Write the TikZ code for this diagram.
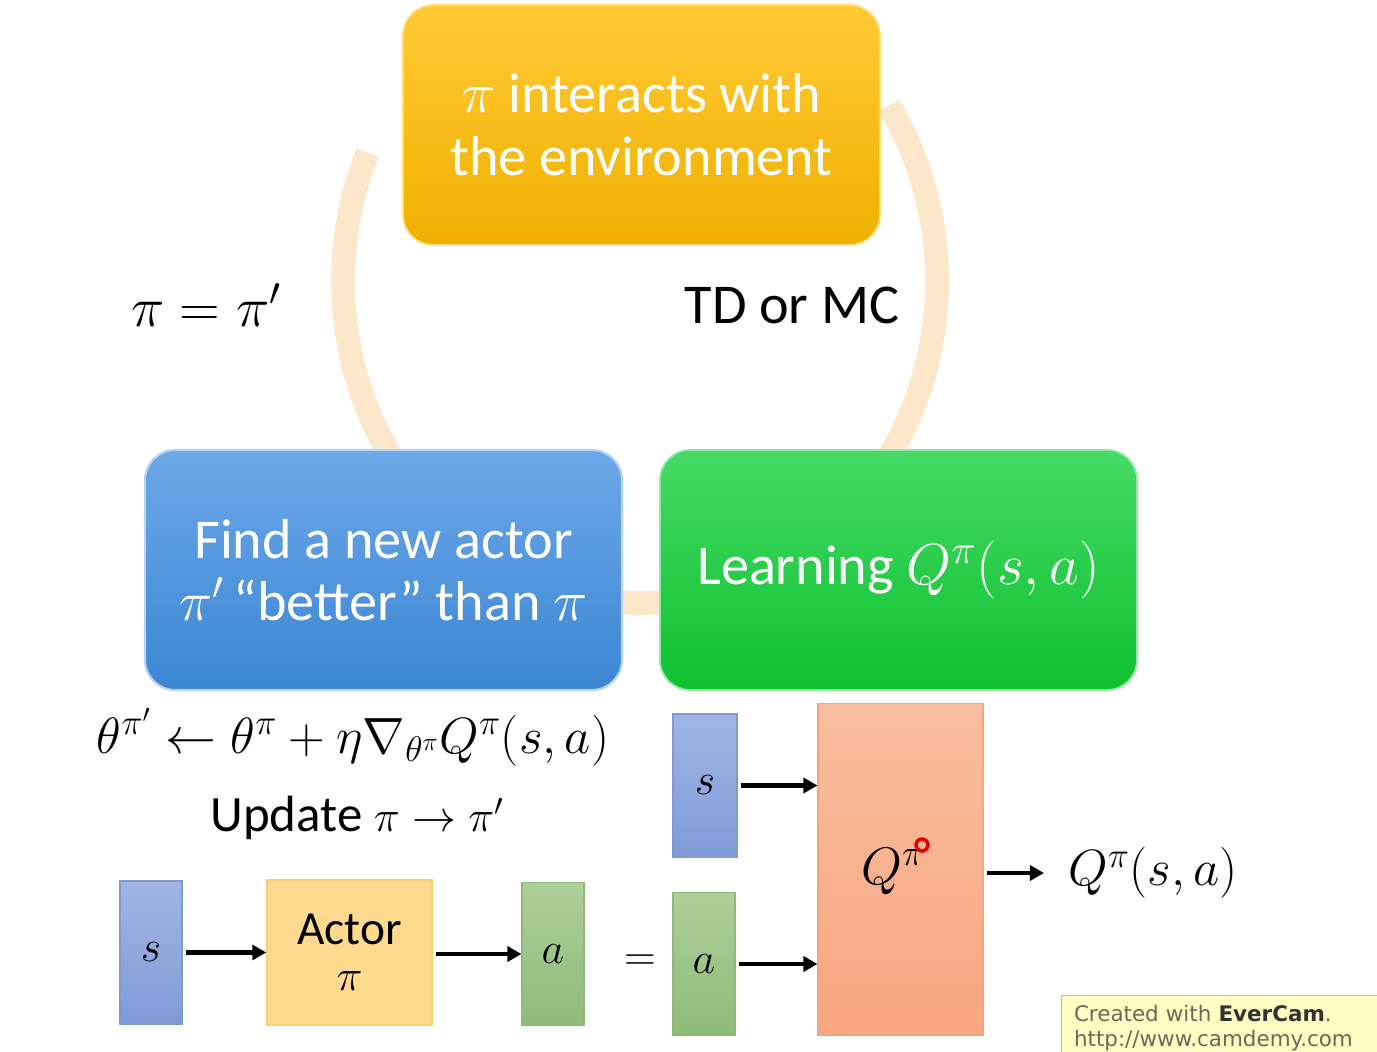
\RequirePackage{fix-cm}
\documentclass[tikz,border=0pt]{standalone}
\usepackage{fontspec}
\setmainfont{Carlito}
\newfontfamily\wmfont{DejaVu Sans}
\usetikzlibrary{arrows.meta,calc}
% math inside a text line, at its own size
\newcommand{\mq}[2]{{\fontsize{#1}{36}\selectfont$#2$}}
\definecolor{ringc}{HTML}{FCE7CB}
\definecolor{ytop}{HTML}{FFCA35}
\definecolor{ybot}{HTML}{EFB000}
\definecolor{btop}{HTML}{6DA8E8}
\definecolor{bbot}{HTML}{3B86D3}
\definecolor{gtop}{HTML}{45DA66}
\definecolor{gbot}{HTML}{0FC02F}
\definecolor{stop}{HTML}{A0B5E3}
\definecolor{sbot}{HTML}{7F9BD7}
\definecolor{sedge}{HTML}{8198D0}
\definecolor{actf}{HTML}{FFD98E}
\definecolor{acte}{HTML}{F9CD70}
\definecolor{atop}{HTML}{ADCF98}
\definecolor{abot}{HTML}{8FBB7A}
\definecolor{aedge}{HTML}{8DB878}
\definecolor{qtop}{HTML}{F9BE9E}
\definecolor{qbot}{HTML}{F8A67F}
\definecolor{qedge}{HTML}{F2A47E}
\definecolor{wmfill}{HTML}{FFFDC2}
\definecolor{wmtext}{HTML}{6A6A58}
\tikzset{
  stagebox/.style={rounded corners=0.6cm, minimum width=9.54cm, minimum height=4.8cm,
    align=center, text=white, font=\fontsize{32}{36}\selectfont, inner sep=0pt},
  vecbox/.style={minimum width=1.24cm, minimum height=2.86cm, inner sep=0pt,
    font=\fontsize{25}{30}\selectfont},
  svec/.style={vecbox, top color=stop, bottom color=sbot, draw=sedge, line width=0.6pt},
  avec/.style={vecbox, top color=atop, bottom color=abot, draw=aedge, line width=0.6pt},
  plain/.style={font=\fontsize{32}{36}\selectfont, inner sep=0pt},
  flow/.style={line width=2.3pt, -{Triangle[length=8pt,width=8.5pt]}, shorten <=2pt}
}
\begin{document}
\begin{tikzpicture}[x=0.02cm, y=-0.02cm]
\useasboundingbox[fill=white] (0,0) rectangle (1377,1052);

% cycle ring behind the three stages, open at the top
\draw[ringc, line width=13.5pt] (640,281) ++(-33:297 and 322)
  arc[start angle=-33, end angle=203.5, x radius=297, y radius=322];

% three stages of the loop
\node[stagebox, top color=ytop, bottom color=ybot, draw=ytop!60!white, line width=1pt]
  (interact) at (641.5,125) {\mq{33}{\pi} interacts with\\the environment};
\node[stagebox, top color=btop, bottom color=bbot, draw=btop!50!white, line width=1.2pt,
  font=\fontsize{32}{35}\selectfont]
  (findnew) at (383.5,570) {Find a new actor\\\mq{32}{\pi'}\,``better'' than \mq{33}{\pi}};
\node[stagebox, top color=gtop, bottom color=gbot, draw=gtop!60!white, line width=1pt]
  (learnq) at (898.5,570) {Learning \mq{33}{Q^{\pi}(s,a)}};

\node[plain, font=\fontsize{32}{36}\selectfont] (assign) at (206,305) {$\pi=\pi'$};
\node[plain] (tdmc) at (792,305) {TD or MC};

% policy update
\node[plain, font=\fontsize{29}{36}\selectfont] (grad) at (353,737)
  {$\theta^{\pi'} \leftarrow \theta^{\pi} + \eta\nabla_{\theta^{\pi}}Q^{\pi}(s,a)$};
\node[plain, font=\fontsize{29}{36}\selectfont] (update) at (357,818) {Update \mq{25}{\pi \rightarrow \pi'}};

% actor network
\node[svec] (s1) at (151,952.5) {$s$};
\node[minimum width=3.3cm, minimum height=2.9cm, fill=actf, draw=acte, line width=0.8pt,
  align=center, font=\fontsize{27}{26}\selectfont, inner sep=0pt]
  (actor) at (349.5,952.5) {Actor\\\mq{25}{\pi}};
\node[avec] (a1) at (553,954) {$a$};
\node[plain, font=\fontsize{25}{36}\selectfont] (equal) at (640,963) {$=$};

% critic network
\node[svec, minimum width=1.28cm] (s2) at (705,785.5) {$s$};
\node[avec] (a2) at (704,964) {$a$};
\node[minimum width=3.3cm, minimum height=6.64cm, top color=qtop, bottom color=qbot,
  draw=qedge, line width=0.6pt, inner sep=0pt] (qnet) at (900.5,869) {};
\node[plain, font=\fontsize{30}{36}\selectfont] (qlabel) at (893,872) {$Q^{\pi}$};
\draw[red!90!black, line width=2pt] (922,845) circle [radius=6];
\node[plain, anchor=west, font=\fontsize{29}{36}\selectfont] (qout) at (1068,873) {$Q^{\pi}(s,a)$};

% data flow
\draw[flow] (s1.east) -- (actor.west |- s1.east);
\draw[flow] (actor.east |- a1.west) -- (a1.west);
\draw[flow] (s2.east) -- (s2.east -| qnet.west);
\draw[flow] (a2.east) -- (a2.east -| qnet.west);
\draw[flow] (qnet.east |- qout.west) -- ($(qout.west)+(-24,0)$);

% recorder watermark
\node[anchor=north west, fill=wmfill, draw=black!25, line width=0.8pt,
  text width=6.2cm, minimum height=1.3cm, text=wmtext, align=left,
  font=\wmfont\fontsize{12.2}{14.5}\selectfont, inner xsep=7pt, inner ysep=4pt]
  (mark) at (1061,995) {Created with \textbf{\color{black!80}EverCam}.\\http://www.camdemy.com};
\end{tikzpicture}
\end{document}
